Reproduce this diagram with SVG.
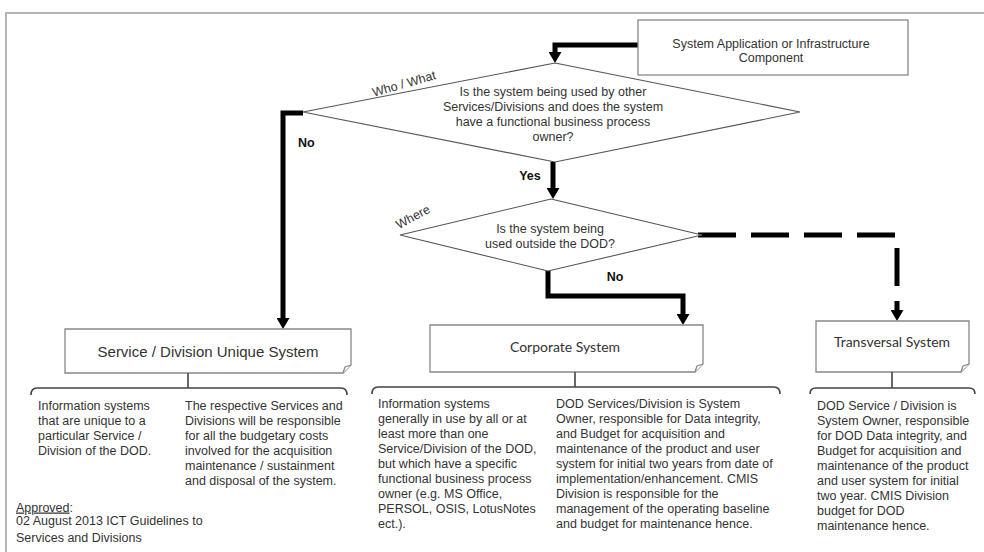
<svg xmlns="http://www.w3.org/2000/svg" width="984" height="552" viewBox="0 0 984 552">
  <defs>
    <style>
      .t { font-family: "Liberation Sans", Arial, sans-serif; font-size: 12.5px; fill: #333; }
      .c { text-anchor: middle; }
      .b { font-weight: bold; fill: #111; }
      .big { font-size: 15px; }
      .cal { font-family: Lato, "Open Sans", sans-serif; font-size: 14px; fill: #333; }
      .box { fill: #fff; stroke: #888; stroke-width: 1.3; }
      .dia { fill: #fff; stroke: #555; stroke-width: 1.1; }
      .brace { fill: none; stroke: #444; stroke-width: 1.6; }
      .flow { fill: none; stroke: #000; stroke-width: 5; }
      .dash { stroke-dasharray: 38 15; }
    </style>
    <marker id="arrow" markerUnits="userSpaceOnUse" viewBox="0 0 11 13" markerWidth="11" markerHeight="13" refX="0" refY="6.5" orient="auto">
      <path d="M0,0 L11,6.5 L0,13 Z" fill="#000"/>
    </marker>
  </defs>

  <!-- page frame -->
  <path d="M6,552 V13 H984" fill="none" stroke="#b4b4b4" stroke-width="2"/>

  <!-- connectors -->
  <g id="connectors">
    <path class="flow" d="M638,45 H555 V52" marker-end="url(#arrow)"/>
    <path class="flow" d="M303,113 H283 V318" marker-end="url(#arrow)"/>
    <path class="flow" d="M553,162 V188" marker-end="url(#arrow)"/>
    <path class="flow" d="M548,271 V296 H683 V314" marker-end="url(#arrow)"/>
    <path class="flow dash" d="M698,235 H897 V310" marker-end="url(#arrow)"/>
  </g>

  <!-- source component -->
  <g id="node-source">
    <rect class="box" x="638" y="20" width="270" height="55"/>
    <text class="t c" x="771" y="47.5">System Application or Infrastructure</text>
    <text class="t c" x="771" y="61.5">Component</text>
  </g>

  <!-- decision: who / what -->
  <g id="node-decision-who">
    <polygon class="dia" points="555,63 800,112 555,162 303,112"/>
    <text class="t c" x="553" y="95.5">Is the system being used by other</text>
    <text class="t c" x="553" y="110.5">Services/Divisions and does the system</text>
    <text class="t c" x="553" y="125.5">have a functional  business process</text>
    <text class="t c" x="553" y="140.5">owner?</text>
    <text class="t c" font-size="12" transform="translate(404,84) rotate(-16)" y="4">Who / What</text>
  </g>

  <!-- decision: where -->
  <g id="node-decision-where">
    <polygon class="dia" points="551,199 702,235 548,271 400,235"/>
    <text class="t c" x="550" y="232.5">Is the system being</text>
    <text class="t c" x="550" y="247.5">used outside the DOD?</text>
    <text class="t c" font-size="12" transform="translate(413,217) rotate(-28)" y="4">Where</text>
  </g>

  <!-- branch labels -->
  <g id="labels">
    <text class="t b" x="298" y="146.5">No</text>
    <text class="t b c" x="530" y="179.5">Yes</text>
    <text class="t b c" x="615" y="280.5">No</text>
  </g>

  <!-- outcome: service / division unique -->
  <g id="node-unique">
    <path class="box" d="M65,329 H351 V365 L343,373 H65 Z"/>
    <path class="box" d="M343,373 L345,367 L351,365" fill="none"/>
    <text class="t c big" x="208" y="357">Service / Division Unique System</text>
    <path class="brace" d="M31,395 Q31,388 37,388 H341 Q347,388 347,395 M188,388 V373"/>
    <text class="t">
      <tspan x="38" y="409.5">Information  systems</tspan>
      <tspan x="38" y="424.5">that are unique to a</tspan>
      <tspan x="38" y="439.5">particular Service /</tspan>
      <tspan x="38" y="454.5">Division of the DOD.</tspan>
    </text>
    <text class="t">
      <tspan x="185" y="409.5">The respective Services and</tspan>
      <tspan x="185" y="424.5">Divisions will be responsible</tspan>
      <tspan x="185" y="439.5">for all the budgetary costs</tspan>
      <tspan x="185" y="454.5">involved for the acquisition</tspan>
      <tspan x="185" y="469.5">maintenance / sustainment</tspan>
      <tspan x="185" y="484.5">and disposal of the system.</tspan>
    </text>
  </g>

  <!-- outcome: corporate -->
  <g id="node-corporate">
    <path class="box" d="M430,325 H703 V364 L695,372 H430 Z"/>
    <path class="box" d="M695,372 L697,366 L703,364" fill="none"/>
    <text class="cal c" x="565" y="352">Corporate System</text>
    <path class="brace" d="M372,394 Q372,387 378,387 H774 Q780,387 780,394 M575,387 V372"/>
    <text class="t">
      <tspan x="378" y="407.5">Information  systems</tspan>
      <tspan x="378" y="422.5">generally in use by all or at</tspan>
      <tspan x="378" y="437.5">least more than one</tspan>
      <tspan x="378" y="452.5">Service/Division of the DOD,</tspan>
      <tspan x="378" y="467.5">but which have a specific</tspan>
      <tspan x="378" y="482.5">functional business process</tspan>
      <tspan x="378" y="497.5">owner (e.g. MS Office,</tspan>
      <tspan x="378" y="512.5">PERSOL, OSIS, LotusNotes</tspan>
      <tspan x="378" y="527.5">ect.).</tspan>
    </text>
    <text class="t">
      <tspan x="556" y="407.5">DOD Services/Division is System</tspan>
      <tspan x="556" y="422.5">Owner, responsible for Data integrity,</tspan>
      <tspan x="556" y="437.5">and Budget for acquisition and</tspan>
      <tspan x="556" y="452.5">maintenance of the product and user</tspan>
      <tspan x="556" y="467.5">system for initial two years from date of</tspan>
      <tspan x="556" y="482.5">implementation/enhancement.  CMIS</tspan>
      <tspan x="556" y="497.5">Division is responsible for the</tspan>
      <tspan x="556" y="512.5">management of the operating baseline</tspan>
      <tspan x="556" y="527.5">and budget for maintenance hence.</tspan>
    </text>
  </g>

  <!-- outcome: transversal -->
  <g id="node-transversal">
    <path class="box" d="M816,321 H969 V364 L961,372 H816 Z"/>
    <path class="box" d="M961,372 L963,366 L969,364" fill="none"/>
    <text class="cal c" x="892" y="347">Transversal System</text>
    <path class="brace" d="M810,394 Q810,388 816,388 H969 Q975,388 975,394 M892,388 V372"/>
    <text class="t">
      <tspan x="817" y="409.5">DOD Service / Division is</tspan>
      <tspan x="817" y="424.5">System Owner, responsible</tspan>
      <tspan x="817" y="439.5">for DOD Data integrity, and</tspan>
      <tspan x="817" y="454.5">Budget for acquisition and</tspan>
      <tspan x="817" y="469.5">maintenance of the product</tspan>
      <tspan x="817" y="484.5">and user system for initial</tspan>
      <tspan x="817" y="499.5">two year. CMIS Division</tspan>
      <tspan x="817" y="514.5">budget for DOD</tspan>
      <tspan x="817" y="529.5">maintenance hence.</tspan>
    </text>
  </g>

  <!-- approval note -->
  <g id="note-approval">
    <text class="t" x="16" y="511.5"><tspan text-decoration="underline">Approved</tspan>:</text>
    <text class="t" x="16" y="524.5">02 August 2013 ICT Guidelines to</text>
    <text class="t" x="16" y="541.5">Services and Divisions</text>
  </g>
</svg>
